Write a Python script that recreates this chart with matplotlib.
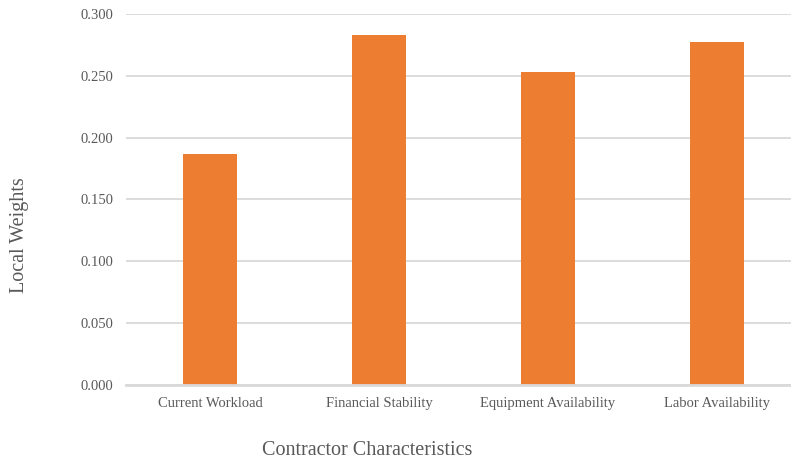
import matplotlib.pyplot as plt

categories = ["Current Workload", "Financial Stability", "Equipment Availability", "Labor Availability"]
weights = [0.187, 0.283, 0.253, 0.277]
yticks = [0.0, 0.05, 0.10, 0.15, 0.20, 0.25, 0.30]

text_color = "#595959"
grid_color = "#D9D9D9"
bar_color = "#ED7D31"

plt.rcParams["font.family"] = ["Liberation Serif", "DejaVu Serif"]

fig = plt.figure(figsize=(7.91, 4.61), dpi=100)
ax = fig.add_axes([0.1587, 0.1649, 0.8546, 0.8048])

x = range(len(categories))
ax.bar(x, weights, width=0.314, color=bar_color, zorder=3)

ax.set_xlim(-0.5, len(categories) - 0.5)
ax.set_ylim(0, 0.30)
ax.set_yticks(yticks)
ax.set_yticklabels(["%.3f" % t for t in yticks])
ax.set_xticks(list(x))
ax.set_xticklabels(categories)

ax.grid(axis="y", color=grid_color, linewidth=1.3, zorder=0)
ax.set_axisbelow(True)
for side in ["top", "right", "left"]:
    ax.spines[side].set_visible(False)
ax.spines["bottom"].set_color(grid_color)
ax.spines["bottom"].set_linewidth(2)
ax.spines["bottom"].set_zorder(4)

ax.tick_params(axis="both", length=0, labelsize=10.5, labelcolor=text_color)
ax.tick_params(axis="y", pad=9)
ax.tick_params(axis="x", pad=9)

# axis titles placed in figure coordinates
fig.text(367 / 791, 1 - 450 / 461, "Contractor Characteristics", fontsize=14.5,
         color=text_color, ha="center", va="center")
fig.text(20 / 791, 1 - 235 / 461, "Local Weights", fontsize=14.5,
         color=text_color, ha="center", va="center", rotation=90)

fig.savefig("out.png", dpi=100)
